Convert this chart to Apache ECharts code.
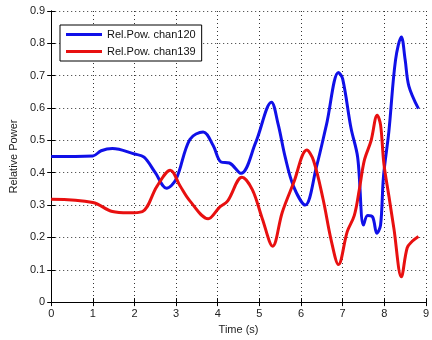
<!DOCTYPE html>
<html><head><meta charset="utf-8">
<script src="https://cdn.jsdelivr.net/npm/echarts@6/dist/echarts.min.js"></script>
<style>html,body{margin:0;padding:0;background:#fff}#c{width:432px;height:340px}</style>
</head><body><div id="c"></div>
<script>
var blueT = [0, 1.0, 1.2, 1.47, 2.0, 2.23, 2.5, 2.77, 3.0, 3.33, 3.65, 3.89, 4.08, 4.28, 4.56, 4.91, 5.29, 5.45, 5.62, 5.82, 6.10, 6.37, 6.61, 6.9, 7.0, 7.2, 7.36, 7.5, 7.6, 7.72, 7.82, 7.91, 7.98, 8.11, 8.27, 8.41, 8.5, 8.59, 8.82];
var blueV = [0.45, 0.452, 0.468, 0.475, 0.458, 0.448, 0.40, 0.352, 0.38, 0.503, 0.526, 0.484, 0.433, 0.43, 0.398, 0.493, 0.618, 0.55, 0.448, 0.358, 0.30, 0.418, 0.548, 0.71, 0.69, 0.538, 0.448, 0.238, 0.268, 0.263, 0.213, 0.238, 0.388, 0.528, 0.749, 0.82, 0.75, 0.668, 0.598];
var redT = [0, 1.0, 1.47, 1.85, 2.19, 2.54, 2.86, 3.1, 3.33, 3.77, 4.04, 4.24, 4.58, 4.83, 5.07, 5.32, 5.55, 5.82, 6.14, 6.3, 6.53, 6.73, 6.9, 7.11, 7.28, 7.4, 7.52, 7.68, 7.83, 7.91, 7.99, 8.11, 8.23, 8.41, 8.55, 8.67, 8.82];
var redV = [0.318, 0.308, 0.28, 0.276, 0.28, 0.358, 0.408, 0.358, 0.313, 0.258, 0.293, 0.313, 0.386, 0.348, 0.258, 0.173, 0.278, 0.368, 0.47, 0.438, 0.318, 0.188, 0.116, 0.218, 0.268, 0.348, 0.438, 0.498, 0.578, 0.548, 0.428, 0.328, 0.228, 0.078, 0.168, 0.188, 0.203];
var seriesNames = ['Rel.Pow. chan120', 'Rel.Pow. chan139'];
var xTitle = 'Time (s)';
var yTitle = 'Relative Power';

function pairs(t, v) { return t.map(function (x, i) { return [x, v[i]]; }); }

var font = 'Liberation Sans, Arial, sans-serif';
var split = { show: true, lineStyle: { color: '#333', type: [1, 3], width: 1 } };
var chart = echarts.init(document.getElementById('c'));
chart.setOption({
  animation: false,
  backgroundColor: '#fff',
  grid: { left: 46, right: 6, top: 11, bottom: 31, containLabel: false },
  legend: {
    orient: 'vertical', left: 60, top: 25, itemWidth: 36, itemHeight: 3, itemGap: 6,
    icon: 'rect', padding: [4, 6, 4, 6], borderColor: '#000', borderWidth: 1, backgroundColor: '#fff',
    textStyle: { fontFamily: font, fontSize: 11, color: '#111' },
    data: seriesNames
  },
  xAxis: [{
    type: 'value', min: 0, max: 9, interval: 1,
    name: xTitle, nameLocation: 'middle', nameGap: 18,
    nameTextStyle: { fontFamily: font, fontSize: 11, color: '#222' },
    axisLine: { lineStyle: { color: '#000' } },
    axisTick: { inside: true, length: 4, lineStyle: { color: '#000' } },
    axisLabel: { fontFamily: font, fontSize: 11, color: '#222', margin: 6 },
    splitLine: split
  }, {
    type: 'value', min: 0, max: 9, interval: 1, position: 'top',
    axisLine: { show: true, lineStyle: { color: '#000' } },
    axisTick: { inside: true, length: 4, lineStyle: { color: '#000' } },
    axisLabel: { show: false }, splitLine: { show: false }
  }],
  yAxis: [{
    type: 'value', min: 0, max: 0.9, interval: 0.1,
    name: yTitle, nameLocation: 'middle', nameGap: 30,
    nameTextStyle: { fontFamily: font, fontSize: 11, color: '#222' },
    axisLine: { show: true, lineStyle: { color: '#000' } },
    axisTick: { show: true, inside: true, length: 4, lineStyle: { color: '#000' } },
    axisLabel: { fontFamily: font, fontSize: 11, color: '#222', margin: 6,
      formatter: function (v) { return String(Math.round(v * 10) / 10); } },
    splitLine: split
  }, {
    type: 'value', min: 0, max: 0.9, interval: 0.1, position: 'right',
    axisLine: { show: true, lineStyle: { color: '#000' } },
    axisTick: { show: true, inside: true, length: 4, lineStyle: { color: '#000' } },
    axisLabel: { show: false }, splitLine: { show: false }
  }],
  series: [{
    name: seriesNames[0], type: 'line', data: pairs(blueT, blueV), smooth: 0.35,
    showSymbol: false, symbol: 'none', itemStyle: { color: '#1010e8' },
    lineStyle: { color: '#1010e8', width: 3 }
  }, {
    name: seriesNames[1], type: 'line', data: pairs(redT, redV), smooth: 0.35,
    showSymbol: false, symbol: 'none', itemStyle: { color: '#e81010' },
    lineStyle: { color: '#e81010', width: 3 }
  }]
});
</script></body></html>
